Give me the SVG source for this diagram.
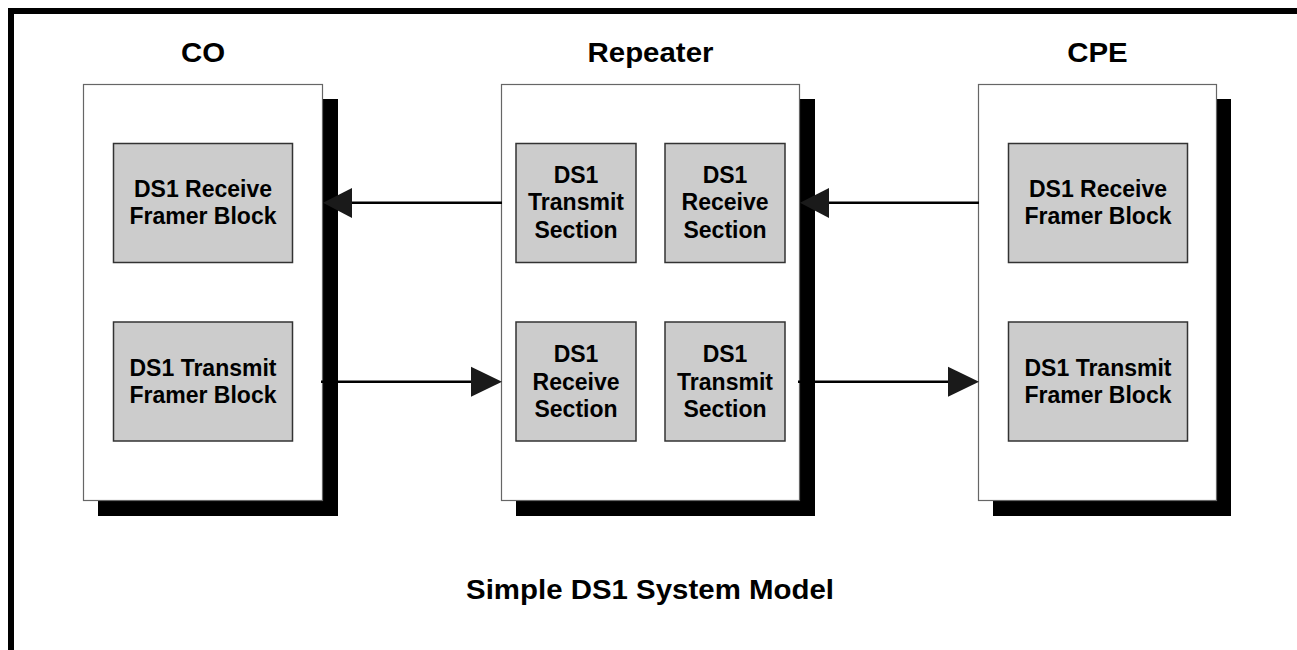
<svg xmlns="http://www.w3.org/2000/svg" width="1297" height="650" viewBox="0 0 1297 650">
<style>
text{font-family:"Liberation Sans",Arial,sans-serif;font-weight:bold;fill:#000;text-anchor:middle}
.t{font-size:27px}
.i{font-size:23px}
.box{fill:#fff;stroke:#666;stroke-width:1.2}
.sh{fill:#000}
.blk{fill:#cccccc;stroke:#333;stroke-width:1.5}
.ln{stroke:#000;stroke-width:2.4;fill:none}
.ah{fill:#1a1a1a}
</style>
<rect width="1297" height="650" fill="#fff"/>
<g id="frame">
<path d="M11 650 V11 H1297" fill="none" stroke="#000" stroke-width="6"/>
</g>
<g id="co">
<rect class="sh" x="98" y="99" width="240" height="417"/>
<rect class="box" x="83.5" y="84.5" width="239" height="416"/>
<text class="t" transform="translate(203,62) scale(1.09,1)">CO</text>
</g>
<g id="co-rx">
<rect class="blk" x="113.5" y="143.5" width="179" height="119"/>
<text class="i" x="203" y="196.5">DS1 Receive</text>
<text class="i" x="203" y="224">Framer Block</text>
</g>
<g id="co-tx">
<rect class="blk" x="113.5" y="322" width="179" height="119"/>
<text class="i" x="203" y="375.5">DS1 Transmit</text>
<text class="i" x="203" y="403">Framer Block</text>
</g>
<g id="rep">
<rect class="sh" x="516" y="99" width="299" height="417"/>
<rect class="box" x="501.5" y="84.5" width="298" height="416"/>
<text class="t" transform="translate(650.5,62) scale(1.09,1)">Repeater</text>
</g>
<g id="rep-tx1">
<rect class="blk" x="516" y="143.5" width="120" height="119"/>
<text class="i" x="576" y="182.5">DS1</text>
<text class="i" x="576" y="210">Transmit</text>
<text class="i" x="576" y="237.5">Section</text>
</g>
<g id="rep-rx1">
<rect class="blk" x="665" y="143.5" width="120" height="119"/>
<text class="i" x="725" y="182.5">DS1</text>
<text class="i" x="725" y="210">Receive</text>
<text class="i" x="725" y="237.5">Section</text>
</g>
<g id="rep-rx2">
<rect class="blk" x="516" y="322" width="120" height="119"/>
<text class="i" x="576" y="362">DS1</text>
<text class="i" x="576" y="389.5">Receive</text>
<text class="i" x="576" y="417">Section</text>
</g>
<g id="rep-tx2">
<rect class="blk" x="665" y="322" width="120" height="119"/>
<text class="i" x="725" y="362">DS1</text>
<text class="i" x="725" y="389.5">Transmit</text>
<text class="i" x="725" y="417">Section</text>
</g>
<g id="cpe">
<rect class="sh" x="993" y="99" width="238" height="417"/>
<rect class="box" x="978.5" y="84.5" width="238" height="416"/>
<text class="t" transform="translate(1097.5,62) scale(1.09,1)">CPE</text>
</g>
<g id="cpe-rx">
<rect class="blk" x="1008.5" y="143.5" width="179" height="119"/>
<text class="i" x="1098" y="196.5">DS1 Receive</text>
<text class="i" x="1098" y="224">Framer Block</text>
</g>
<g id="cpe-tx">
<rect class="blk" x="1008.5" y="322" width="179" height="119"/>
<text class="i" x="1098" y="375.5">DS1 Transmit</text>
<text class="i" x="1098" y="403">Framer Block</text>
</g>
<g id="connectors">
<line class="ln" x1="502" y1="202.7" x2="350" y2="202.7"/>
<polygon class="ah" points="323,202.7 352,188 352,218"/>
<line class="ln" x1="979" y1="202.7" x2="827" y2="202.7"/>
<polygon class="ah" points="800,202.7 829,188 829,218"/>
<line class="ln" x1="321" y1="381.7" x2="473" y2="381.7"/>
<polygon class="ah" points="502,381.7 471,366.7 471,396.7"/>
<line class="ln" x1="798" y1="381.7" x2="950" y2="381.7"/>
<polygon class="ah" points="979,381.7 948,366.7 948,396.7"/>
</g>
<g id="caption">
<text class="t" transform="translate(650,599) scale(1.09,1)">Simple DS1 System Model</text>
</g>
</svg>
